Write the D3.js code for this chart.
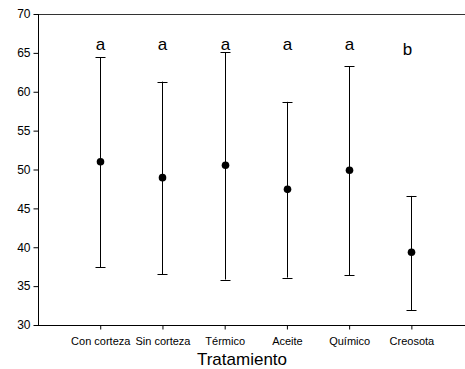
<!DOCTYPE html>
<html>
<head>
<meta charset="utf-8">
<script src="https://cdn.jsdelivr.net/npm/d3@7"></script>
<style>
  html, body { margin: 0; padding: 0; background: #fff; }
  svg { display: block; font-family: "Liberation Sans", Arial, sans-serif; }
</style>
</head>
<body>
<svg id="chart" width="465" height="369"></svg>
<script>
// Treatments and their mean with lower / upper limits
const categories = ["Con corteza", "Sin corteza", "Térmico", "Aceite", "Químico", "Creosota"];
const means = [51.0, 48.95, 50.55, 47.45, 49.9, 39.35];
const lower = [37.4, 36.5, 35.85, 36.1, 36.4, 31.9];
const upper = [64.45, 61.3, 65.05, 58.7, 63.25, 46.6];
// Significance groups written above each treatment
const groups = ["a", "a", "a", "a", "a", "b"];
const groupY = [65.35, 65.35, 65.35, 65.35, 65.35, 64.7];
const yTicks = [30, 35, 40, 45, 50, 55, 60, 65, 70];
const xTitle = "Tratamiento";

const svg = d3.select("#chart");
const plotLeft = 38, plotTop = 14, plotBottom = 325, plotRight = 473.6;

const x = d3.scalePoint().domain(categories).range([plotLeft, plotRight]).padding(1);
const y = d3.scaleLinear().domain([30, 70]).range([plotBottom, plotTop]);

// Top frame line
svg.append("line")
  .attr("x1", plotLeft).attr("x2", 465)
  .attr("y1", plotTop + 0.5).attr("y2", plotTop + 0.5)
  .attr("stroke", "#333").attr("stroke-width", 1);

// Y axis
const yAxis = svg.append("g")
  .attr("transform", `translate(${plotLeft + 0.5},0)`)
  .call(d3.axisLeft(y).tickValues(yTicks).tickSize(5).tickPadding(3));
yAxis.select(".domain").attr("d", `M0,${plotTop}V${plotBottom + 0.5}`);
yAxis.selectAll("text").attr("font-size", 12).attr("fill", "#000")
  .attr("font-family", "Liberation Sans, Arial, sans-serif");

// X axis
const xAxis = svg.append("g")
  .attr("transform", `translate(0,${plotBottom + 0.5})`)
  .call(d3.axisBottom(x).tickSize(4).tickPadding(8));
xAxis.select(".domain").attr("d", `M${plotLeft},0H465`);
xAxis.selectAll("text").attr("font-size", 11).attr("fill", "#000")
  .attr("font-family", "Liberation Sans, Arial, sans-serif");

// X axis title
svg.append("text")
  .attr("x", 242).attr("y", 365)
  .attr("text-anchor", "middle")
  .attr("font-size", 17)
  .text(xTitle);

// Error bars, means and group letters
const bars = svg.append("g");
categories.forEach((c, i) => {
  const cx = Math.round(x(c)) + 0.5;
  bars.append("line")
    .attr("x1", cx).attr("x2", cx)
    .attr("y1", y(lower[i])).attr("y2", y(upper[i]))
    .attr("stroke", "#000").attr("stroke-width", 1);
  [lower[i], upper[i]].forEach(v => {
    bars.append("line")
      .attr("x1", cx - 5).attr("x2", cx + 5)
      .attr("y1", Math.round(y(v)) + 0.5).attr("y2", Math.round(y(v)) + 0.5)
      .attr("stroke", "#000").attr("stroke-width", 1);
  });
  bars.append("circle")
    .attr("cx", cx).attr("cy", y(means[i]))
    .attr("r", 3.8).attr("fill", "#000");
  svg.append("text")
    .attr("x", cx - (groups[i] === "b" ? 4 : 0))
    .attr("y", y(groupY[i]))
    .attr("text-anchor", "middle")
    .attr("font-size", 17)
    .text(groups[i]);
});
</script>
</body>
</html>
